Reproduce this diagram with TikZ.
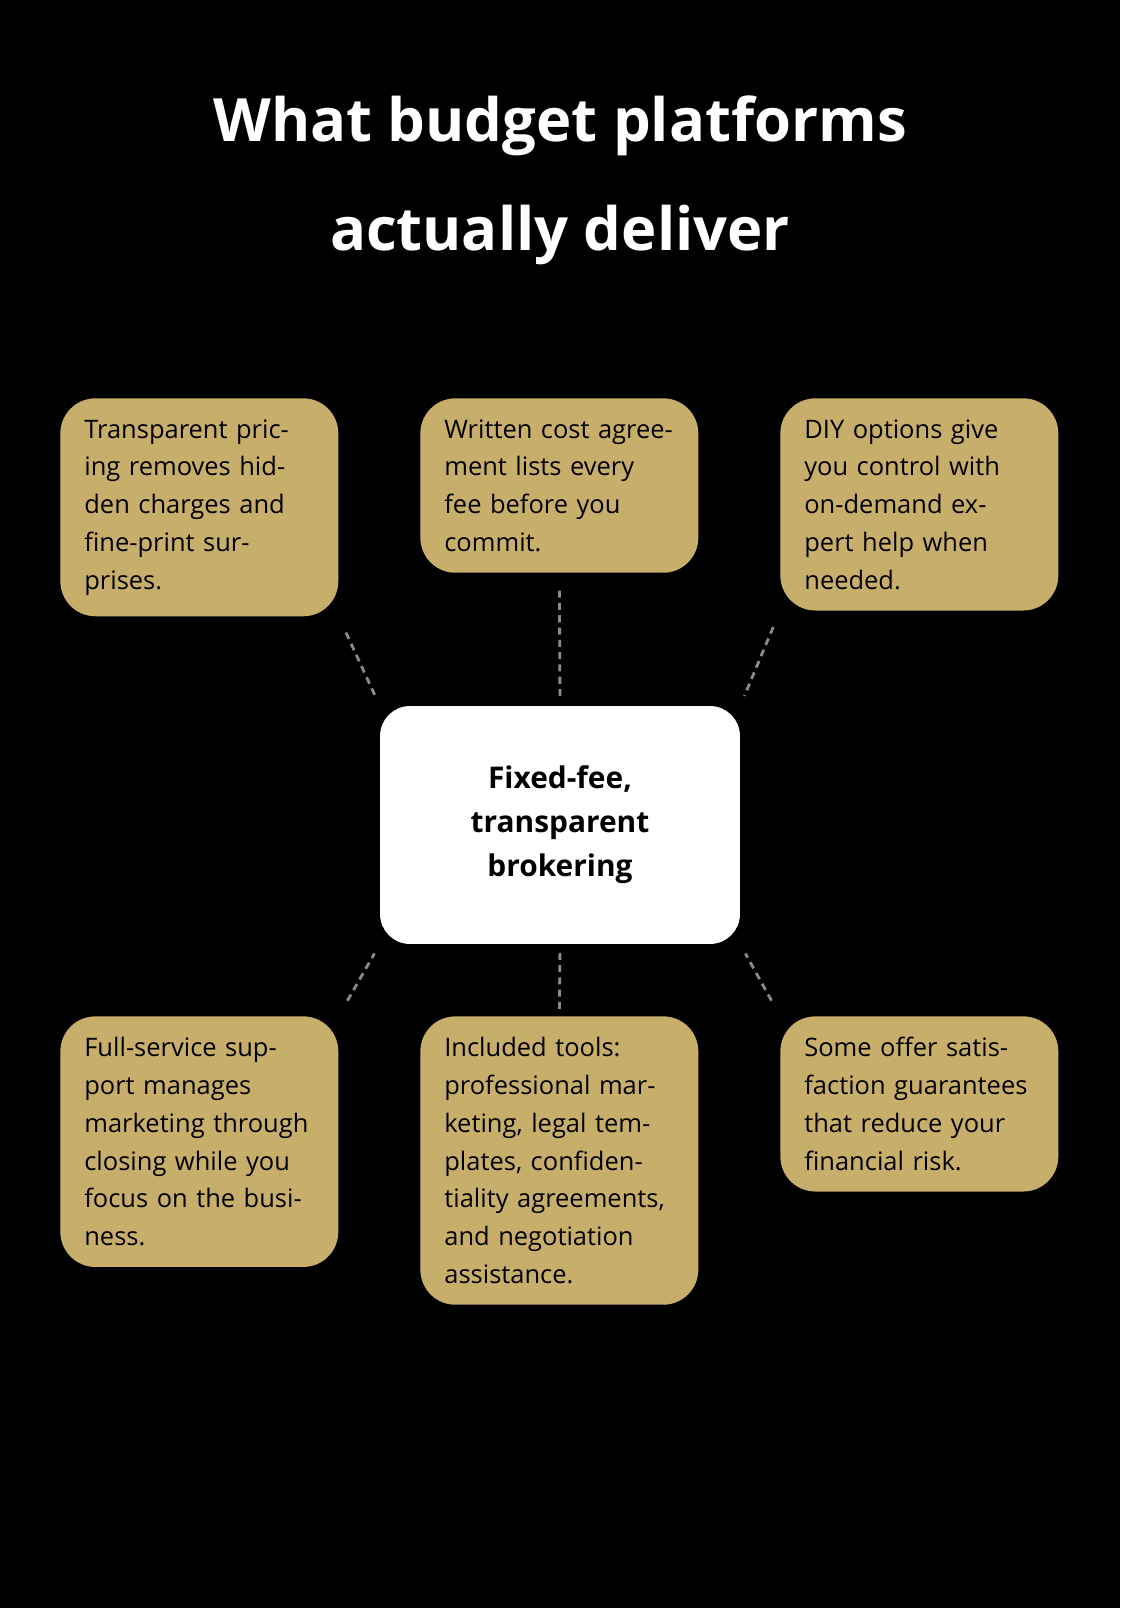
\documentclass[tikz,border=0pt]{standalone}
\usepackage{fontspec}
\setmainfont{Open Sans}
\definecolor{gold}{HTML}{C7AF6B}
\definecolor{lnk}{HTML}{8A8A8A}
\begin{document}
\begin{tikzpicture}[x=0.02cm,y=-0.02cm,
    card/.style={fill=gold,rounded corners=0.7cm,anchor=north west,align=left,
      text width=4.6cm,inner xsep=0.48cm,inner ysep=0.42cm,
      font=\fontsize{14.5}{21.5}\selectfont},
    hub/.style={fill=white,rounded corners=0.6cm,minimum width=7.2cm,minimum height=4.76cm,
      align=center,font=\bfseries\fontsize{17}{25}\selectfont},
    link/.style={draw=lnk,line width=1.6pt,dash pattern=on 4pt off 3pt},
]
    \fill[black] (0,0) rectangle (1120,1608);
    \useasboundingbox (0,0) rectangle (1120,1608);

    \node[white,align=center,font=\bfseries\fontsize{34}{62}\selectfont] (title) at (560,180)
        {What budget platforms\\actually deliver};

    \node[hub] (hub) at (560,825) {Fixed-fee,\\transparent\\brokering};

    \node[card] (tl) at (60,398) {Transparent pricing removes hidden charges and fine-print surprises.};
    \node[card] (tm) at (420,398) {Written cost agreement lists every fee before you commit.};
    \node[card] (tr) at (780,398) {DIY options give you control with on-demand expert help when needed.};
    \node[card] (bl) at (60,1016) {Full-service support manages marketing through closing while you focus on the business.};
    \node[card] (bm) at (420,1016) {Included tools: professional marketing, legal templates, confidentiality agreements, and negotiation assistance.};
    \node[card] (br) at (780,1016) {Some offer satisfaction guarantees that reduce your financial risk.};

    % connectors
    \draw[link,shorten <=10pt,shorten >=6pt] (tl.south east) -- (hub.north west);
    \draw[link,shorten <=10pt,shorten >=4pt] (tm.south) -- (hub.north);
    \draw[link,shorten <=10pt,shorten >=6pt] (tr.south west) -- (hub.north east);
    \draw[link,shorten <=10pt,shorten >=6pt] (bl.north east) -- (hub.south west);
    \draw[link,shorten <=4pt,shorten >=4pt] (bm.north) -- (hub.south);
    \draw[link,shorten <=10pt,shorten >=6pt] (br.north west) -- (hub.south east);
\end{tikzpicture}
\end{document}
